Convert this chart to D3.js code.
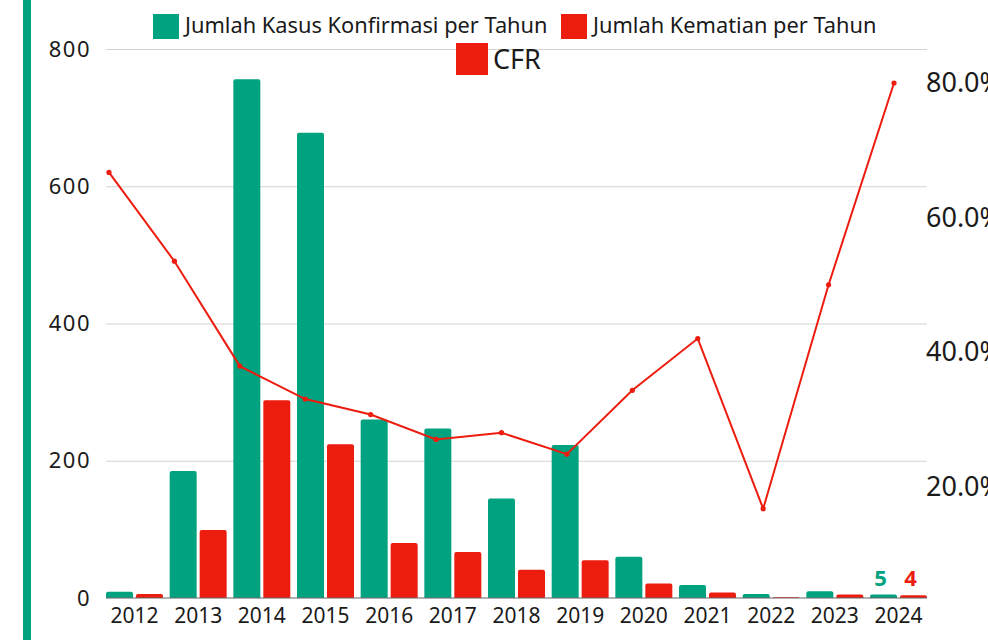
<!DOCTYPE html>
<html>
<head>
<meta charset="utf-8">
<script src="https://cdn.jsdelivr.net/npm/d3@7"></script>
<style>
  body { margin: 0; background: #fff; }
  svg { display: block; font-family: "Noto Sans", sans-serif; }
</style>
</head>
<body>
<script>
//data
var years = ["2012", "2013", "2014", "2015", "2016", "2017", "2018", "2019", "2020", "2021", "2022", "2023", "2024"];
var kasus = [9, 185, 756, 678, 260, 247, 145, 223, 60, 19, 6, 10, 5];
var kematian = [6, 99, 288, 224, 80, 67, 41, 55, 21, 8, 1, 5, 4];
var cfr = [66.7, 53.5, 37.9, 33.0, 30.7, 27.0, 28.0, 24.8, 34.3, 42.0, 16.7, 50.0, 80.0];
var leftTicks = [0, 200, 400, 600, 800];
var rightTicks = [20, 40, 60, 80];

var green = "#00a27f";
var red = "#ec1c0f";

//setup
var width = 988, height = 640;
var plot = { left: 106, right: 927, top: 49, bottom: 598 };

var svg = d3.select("body")
    .append('svg')
    .attr("width", width)
    .attr("height", height);

// left stripe
svg.append("rect")
    .attr("x", 23).attr("y", 0)
    .attr("width", 8).attr("height", height)
    .attr("fill", green);

// x scale for bars
var x = d3.scaleBand()
    .domain(years)
    .range([plot.left, plot.right])
    .paddingInner(0.105)
    .paddingOuter(0);
var xSub = d3.scaleBand()
    .domain(["kasus", "kematian"])
    .range([0, x.bandwidth()])
    .paddingInner(0.1);

// x scale for the line
var xLine = d3.scalePoint()
    .domain(years)
    .range([109, 894]);

// y scales
var y = d3.scaleLinear()
    .domain([0, 800])
    .range([plot.bottom, plot.top]);
var y2 = d3.scaleLinear()
    .domain([0, 80])
    .range([621, 83]);

// gridlines
svg.append("g")
    .selectAll("line")
    .data(leftTicks.slice(1))
    .enter().append("line")
    .attr("x1", plot.left).attr("x2", plot.right)
    .attr("y1", function (d) { return y(d) + 0.5; })
    .attr("y2", function (d) { return y(d) + 0.5; })
    .attr("stroke", "#d4d4d4")
    .attr("stroke-width", 1.2);

// left axis
var axisL = svg.append("g")
    .attr("transform", "translate(" + plot.left + ",0)")
    .call(d3.axisLeft(y).tickValues(leftTicks).tickSize(0).tickPadding(15));
axisL.select(".domain").remove();
axisL.selectAll("text")
    .attr("font-size", 22)
    .attr("letter-spacing", 1.5)
    .attr("font-family", "Noto Sans")
    .attr("fill", "#1a1a1a");

// right axis
var axisR = svg.append("g")
    .attr("transform", "translate(" + 926 + ",0)")
    .call(d3.axisRight(y2).tickValues(rightTicks).tickSize(0).tickPadding(0)
        .tickFormat(function (d) { return d.toFixed(1) + "%"; }));
axisR.select(".domain").remove();
axisR.selectAll("text")
    .attr("font-size", 27)
    .attr("font-family", "Noto Sans")
    .attr("fill", "#1a1a1a");

// bars
var groups = svg.append("g")
    .selectAll("g")
    .data(years)
    .enter().append("g")
    .attr("transform", function (d) { return "translate(" + x(d) + ",0)"; });

groups.append("rect")
    .attr("x", xSub("kasus"))
    .attr("width", xSub.bandwidth())
    .attr("y", function (d, i) { return y(kasus[i]); })
    .attr("height", function (d, i) { return plot.bottom - y(kasus[i]) + 2; })
    .attr("rx", 2)
    .attr("fill", green);

groups.append("rect")
    .attr("x", xSub("kematian"))
    .attr("width", xSub.bandwidth())
    .attr("y", function (d, i) { return y(kematian[i]); })
    .attr("height", function (d, i) { return plot.bottom - y(kematian[i]) + 2; })
    .attr("rx", 2)
    .attr("fill", red);

// cover bottom of bars and draw baseline
svg.append("rect")
    .attr("x", plot.left).attr("y", plot.bottom)
    .attr("width", plot.right - plot.left).attr("height", 4)
    .attr("fill", "#fff");
svg.append("line")
    .attr("x1", plot.left).attr("x2", plot.right)
    .attr("y1", plot.bottom).attr("y2", plot.bottom)
    .attr("stroke", "#666")
    .attr("stroke-width", 1.2);

// x axis labels
var axisB = svg.append("g")
    .attr("transform", "translate(0," + plot.bottom + ")")
    .call(d3.axisBottom(x).tickSize(0).tickPadding(10));
axisB.select(".domain").remove();
axisB.selectAll("text")
    .attr("font-size", 21)
    .attr("font-family", "Noto Sans")
    .attr("fill", "#1a1a1a");

// value labels for last year
var last = years.length - 1;
svg.append("text")
    .attr("x", x(years[last]) + xSub("kasus") + xSub.bandwidth() / 2 - 3)
    .attr("y", y(kasus[last]) - 9)
    .attr("text-anchor", "middle")
    .attr("font-size", 22).attr("font-weight", "bold")
    .attr("fill", green)
    .text(kasus[last]);
svg.append("text")
    .attr("x", x(years[last]) + xSub("kematian") + xSub.bandwidth() / 2 - 3)
    .attr("y", y(kematian[last]) - 9)
    .attr("text-anchor", "middle")
    .attr("font-size", 22).attr("font-weight", "bold")
    .attr("fill", red)
    .text(kematian[last]);

// CFR line
var line = d3.line()
    .x(function (d, i) { return xLine(years[i]); })
    .y(function (d) { return y2(d); });

svg.append("path")
    .datum(cfr)
    .attr("fill", "none")
    .attr("stroke", red)
    .attr("stroke-width", 2)
    .attr("d", line);

svg.append("g")
    .selectAll("circle")
    .data(cfr)
    .enter().append("circle")
    .attr("cx", function (d, i) { return xLine(years[i]); })
    .attr("cy", function (d) { return y2(d); })
    .attr("r", 2.6)
    .attr("fill", red);

// legend
var legend = svg.append("g");
legend.append("rect").attr("x", 153).attr("y", 14).attr("width", 26).attr("height", 25).attr("fill", green);
legend.append("text").attr("x", 185).attr("y", 33).attr("font-size", 21.8).attr("fill", "#1a1a1a")
    .text("Jumlah Kasus Konfirmasi per Tahun");
legend.append("rect").attr("x", 561).attr("y", 14).attr("width", 26).attr("height", 25).attr("fill", red);
legend.append("text").attr("x", 593).attr("y", 33).attr("font-size", 21.8).attr("fill", "#1a1a1a")
    .text("Jumlah Kematian per Tahun");
legend.append("rect").attr("x", 456).attr("y", 43).attr("width", 32).attr("height", 32).attr("fill", red);
legend.append("text").attr("x", 493).attr("y", 69).attr("font-size", 27).attr("fill", "#1a1a1a")
    .text("CFR");
</script>
</body>
</html>
